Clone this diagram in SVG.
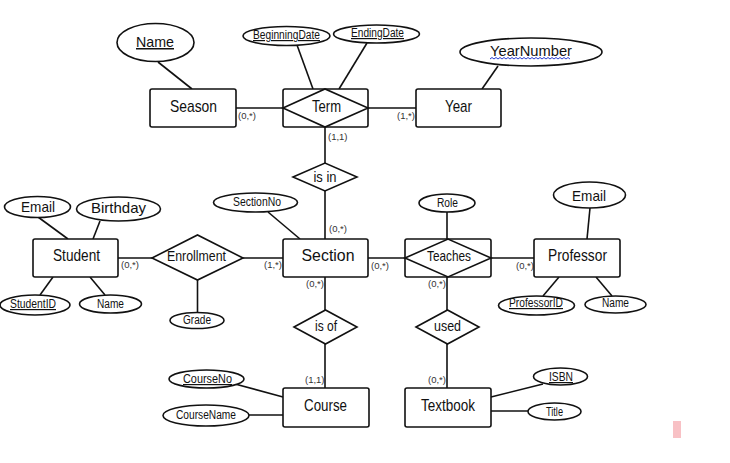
<svg xmlns="http://www.w3.org/2000/svg" width="730" height="463" viewBox="0 0 730 463">
<style>
.bg{fill:#fff}
.ent{fill:#fff;stroke:#111;stroke-width:1.6}
.rel{fill:#fff;stroke:#111;stroke-width:1.6;stroke-linejoin:miter}
.att{fill:#fff;stroke:#111;stroke-width:1.6}
.ln{stroke:#111;stroke-width:1.6;fill:none}
text{font-family:"Liberation Sans Narrow","Liberation Sans",Arial,sans-serif;fill:#111;text-anchor:middle}
.te{font-size:17px}
.tr{font-size:15px}
.tb{font-size:15px}
.ts{font-size:12px}
.tc{font-size:9.5px;text-anchor:start;fill:#333}
.u{text-decoration:underline}
</style>
<rect class="bg" x="0" y="0" width="730" height="463"/>

<g id="connectors">
<line class="ln" x1="158" y1="62" x2="192" y2="89"/>
<line class="ln" x1="297" y1="45" x2="313" y2="89"/>
<line class="ln" x1="367" y1="43" x2="339" y2="89"/>
<line class="ln" x1="498" y1="66" x2="482" y2="89"/>
<line class="ln" x1="236" y1="108" x2="283" y2="108"/>
<line class="ln" x1="368" y1="108" x2="416" y2="108"/>
<line class="ln" x1="325" y1="127" x2="325" y2="163"/>
<line class="ln" x1="325" y1="191" x2="325" y2="239"/>
<line class="ln" x1="38" y1="217" x2="68" y2="239"/>
<line class="ln" x1="100" y1="221" x2="93" y2="239"/>
<line class="ln" x1="40" y1="295" x2="53" y2="277"/>
<line class="ln" x1="105" y1="295" x2="90" y2="277"/>
<line class="ln" x1="118" y1="258" x2="152" y2="258"/>
<line class="ln" x1="243" y1="258" x2="283" y2="258"/>
<line class="ln" x1="197.5" y1="280" x2="197.5" y2="313"/>
<line class="ln" x1="268" y1="212" x2="300" y2="239"/>
<line class="ln" x1="368" y1="258" x2="405" y2="258"/>
<line class="ln" x1="447" y1="212" x2="447" y2="239"/>
<line class="ln" x1="491" y1="258" x2="534" y2="258"/>
<line class="ln" x1="590" y1="208" x2="587" y2="239"/>
<line class="ln" x1="543" y1="296" x2="559" y2="277"/>
<line class="ln" x1="612" y1="296" x2="596" y2="277"/>
<line class="ln" x1="325" y1="277" x2="325" y2="310"/>
<line class="ln" x1="325" y1="344" x2="325" y2="388"/>
<line class="ln" x1="447" y1="277" x2="447" y2="310"/>
<line class="ln" x1="447" y1="344" x2="447" y2="388"/>
<line class="ln" x1="235" y1="384" x2="283" y2="397"/>
<line class="ln" x1="249" y1="415" x2="283" y2="415"/>
<line class="ln" x1="543" y1="384" x2="491" y2="397"/>
<line class="ln" x1="491" y1="411" x2="528" y2="411"/>
<text class="tc" x="238" y="119">(0,*)</text>
<text class="tc" x="328" y="140">(1,1)</text>
<text class="tc" x="397" y="119">(1,*)</text>
<text class="tc" x="329" y="232">(0,*)</text>
<text class="tc" x="371" y="269">(0,*)</text>
<text class="tc" x="306" y="287">(0,*)</text>
<text class="tc" x="428" y="287">(0,*)</text>
<text class="tc" x="516" y="269">(0,*)</text>
<text class="tc" x="121" y="268">(0,*)</text>
<text class="tc" x="264" y="268">(1,*)</text>
<text class="tc" x="305" y="383">(1,1)</text>
<text class="tc" x="428" y="383">(0,*)</text>
</g>

<g id="season"><rect class="ent" x="150" y="89" width="86" height="38" rx="2"/><text class="te" x="193.5" y="112" textLength="47" lengthAdjust="spacingAndGlyphs">Season</text></g>
<g id="season-name"><ellipse class="att" cx="155.5" cy="42.5" rx="38.5" ry="19"/><text class="tb u" x="155" y="47" textLength="38" lengthAdjust="spacingAndGlyphs">Name</text></g>
<g id="term"><rect class="ent" x="283" y="89" width="85" height="38" rx="2"/><polygon class="rel" points="283,108 325,89 368,108 325,127"/><text class="te" x="326.5" y="112" textLength="29" lengthAdjust="spacingAndGlyphs">Term</text></g>
<g id="beginningdate"><ellipse class="att" cx="286.5" cy="36" rx="43.5" ry="9.5"/><text class="ts u" x="286.5" y="39" textLength="67" lengthAdjust="spacingAndGlyphs">BeginningDate</text></g>
<g id="endingdate"><ellipse class="att" cx="376.5" cy="34" rx="43" ry="9"/><text class="ts u" x="377.5" y="37" textLength="53" lengthAdjust="spacingAndGlyphs">EndingDate</text></g>
<g id="year"><rect class="ent" x="416" y="89" width="85" height="38" rx="2"/><text class="te" x="458.5" y="112" textLength="27" lengthAdjust="spacingAndGlyphs">Year</text></g>
<g id="yearnumber"><ellipse class="att" cx="531" cy="52" rx="71" ry="14"/><text class="tb" x="531" y="56" textLength="82" lengthAdjust="spacingAndGlyphs">YearNumber</text><path d="M490,59 l2,-1.5 l2,1.5 l2,-1.5 l2,1.5 l2,-1.5 l2,1.5 l2,-1.5 l2,1.5 l2,-1.5 l2,1.5 l2,-1.5 l2,1.5 l2,-1.5 l2,1.5 l2,-1.5 l2,1.5 l2,-1.5 l2,1.5 l2,-1.5 l2,1.5 l2,-1.5 l2,1.5 l2,-1.5 l2,1.5 l2,-1.5 l2,1.5 l2,-1.5 l2,1.5 l2,-1.5 l2,1.5 l2,-1.5 l2,1.5 l2,-1.5 l2,1.5 l2,-1.5 l2,1.5 l2,-1.5 l2,1.5 l2,-1.5 l2,1.5" fill="none" stroke="#2a3fd0" stroke-width="1"/></g>
<g id="is-in"><polygon class="rel" points="293,177 325,163 357,177 325,191"/><text class="tr" x="325" y="182" textLength="23" lengthAdjust="spacingAndGlyphs">is in</text></g>

<g id="student"><rect class="ent" x="33" y="239" width="85" height="38" rx="2"/><text class="te" x="76.5" y="261" textLength="47" lengthAdjust="spacingAndGlyphs">Student</text></g>
<g id="student-email"><ellipse class="att" cx="37.5" cy="207" rx="33" ry="10.5"/><text class="tb" x="38" y="212" textLength="34" lengthAdjust="spacingAndGlyphs">Email</text></g>
<g id="birthday"><ellipse class="att" cx="118.5" cy="209" rx="42" ry="12"/><text class="tb" x="118.5" y="213" textLength="55" lengthAdjust="spacingAndGlyphs">Birthday</text></g>
<g id="studentid"><ellipse class="att" cx="35" cy="305" rx="35" ry="10"/><text class="ts u" x="33" y="308" textLength="46" lengthAdjust="spacingAndGlyphs">StudentID</text></g>
<g id="student-name"><ellipse class="att" cx="110.5" cy="304" rx="31" ry="9"/><text class="ts" x="110.5" y="308" textLength="27" lengthAdjust="spacingAndGlyphs">Name</text></g>
<g id="enrollment"><polygon class="rel" points="152,258 197.5,235 243,258 197.5,280"/><text class="tr" x="196.5" y="261" textLength="59" lengthAdjust="spacingAndGlyphs">Enrollment</text></g>
<g id="grade"><ellipse class="att" cx="197" cy="320.5" rx="27" ry="8"/><text class="ts" x="197" y="324" textLength="28" lengthAdjust="spacingAndGlyphs">Grade</text></g>

<g id="section"><rect class="ent" x="283" y="239" width="85" height="38" rx="2"/><text class="te" x="328" y="261" textLength="53" lengthAdjust="spacingAndGlyphs">Section</text></g>
<g id="sectionno"><ellipse class="att" cx="255.5" cy="202.5" rx="42" ry="9.5"/><text class="ts" x="257" y="206" textLength="48" lengthAdjust="spacingAndGlyphs">SectionNo</text></g>
<g id="teaches"><rect class="ent" x="405" y="239" width="86" height="38" rx="2"/><polygon class="rel" points="405,258 448,239 491,258 448,277"/><text class="tr" x="449" y="261" textLength="44" lengthAdjust="spacingAndGlyphs">Teaches</text></g>
<g id="role"><ellipse class="att" cx="447" cy="203" rx="28" ry="9"/><text class="ts" x="447.5" y="207" textLength="21" lengthAdjust="spacingAndGlyphs">Role</text></g>
<g id="professor"><rect class="ent" x="534" y="239" width="86" height="38" rx="2"/><text class="te" x="577.5" y="261" textLength="59" lengthAdjust="spacingAndGlyphs">Professor</text></g>
<g id="professor-email"><ellipse class="att" cx="589.5" cy="195" rx="36" ry="13"/><text class="tb" x="589" y="201" textLength="34" lengthAdjust="spacingAndGlyphs">Email</text></g>
<g id="professorid"><ellipse class="att" cx="536.5" cy="305.5" rx="38" ry="9.5"/><text class="ts u" x="536" y="307" textLength="54" lengthAdjust="spacingAndGlyphs">ProfessorID</text></g>
<g id="professor-name"><ellipse class="att" cx="615.5" cy="304.5" rx="30.5" ry="8.5"/><text class="ts" x="615.5" y="307" textLength="27" lengthAdjust="spacingAndGlyphs">Name</text></g>

<g id="is-of"><polygon class="rel" points="294,327 325.5,310 357,327 325.5,344"/><text class="tr" x="326" y="331" textLength="22" lengthAdjust="spacingAndGlyphs">is of</text></g>
<g id="used"><polygon class="rel" points="416,327 447.5,310 479,327 447.5,344"/><text class="tr" x="447.5" y="331" textLength="27" lengthAdjust="spacingAndGlyphs">used</text></g>
<g id="course"><rect class="ent" x="283" y="388" width="86" height="39" rx="2"/><text class="te" x="325.5" y="411" textLength="43" lengthAdjust="spacingAndGlyphs">Course</text></g>
<g id="courseno"><ellipse class="att" cx="206.5" cy="379" rx="37.5" ry="9"/><text class="ts u" x="207.5" y="383" textLength="49" lengthAdjust="spacingAndGlyphs">CourseNo</text></g>
<g id="coursename"><ellipse class="att" cx="206" cy="415.5" rx="43" ry="10.5"/><text class="ts" x="206" y="419" textLength="60" lengthAdjust="spacingAndGlyphs">CourseName</text></g>
<g id="textbook"><rect class="ent" x="405" y="388" width="86" height="39" rx="2"/><text class="te" x="448" y="411" textLength="54" lengthAdjust="spacingAndGlyphs">Textbook</text></g>
<g id="isbn"><ellipse class="att" cx="560.5" cy="376.5" rx="27" ry="8.5"/><text class="ts u" x="561" y="381" textLength="24" lengthAdjust="spacingAndGlyphs">ISBN</text></g>
<g id="title"><ellipse class="att" cx="554.5" cy="411.5" rx="26.5" ry="8.5"/><text class="ts" x="554.5" y="416" textLength="17" lengthAdjust="spacingAndGlyphs">Title</text></g>

<rect x="673" y="421" width="8" height="17" fill="#f8c1c5"/>
</svg>
